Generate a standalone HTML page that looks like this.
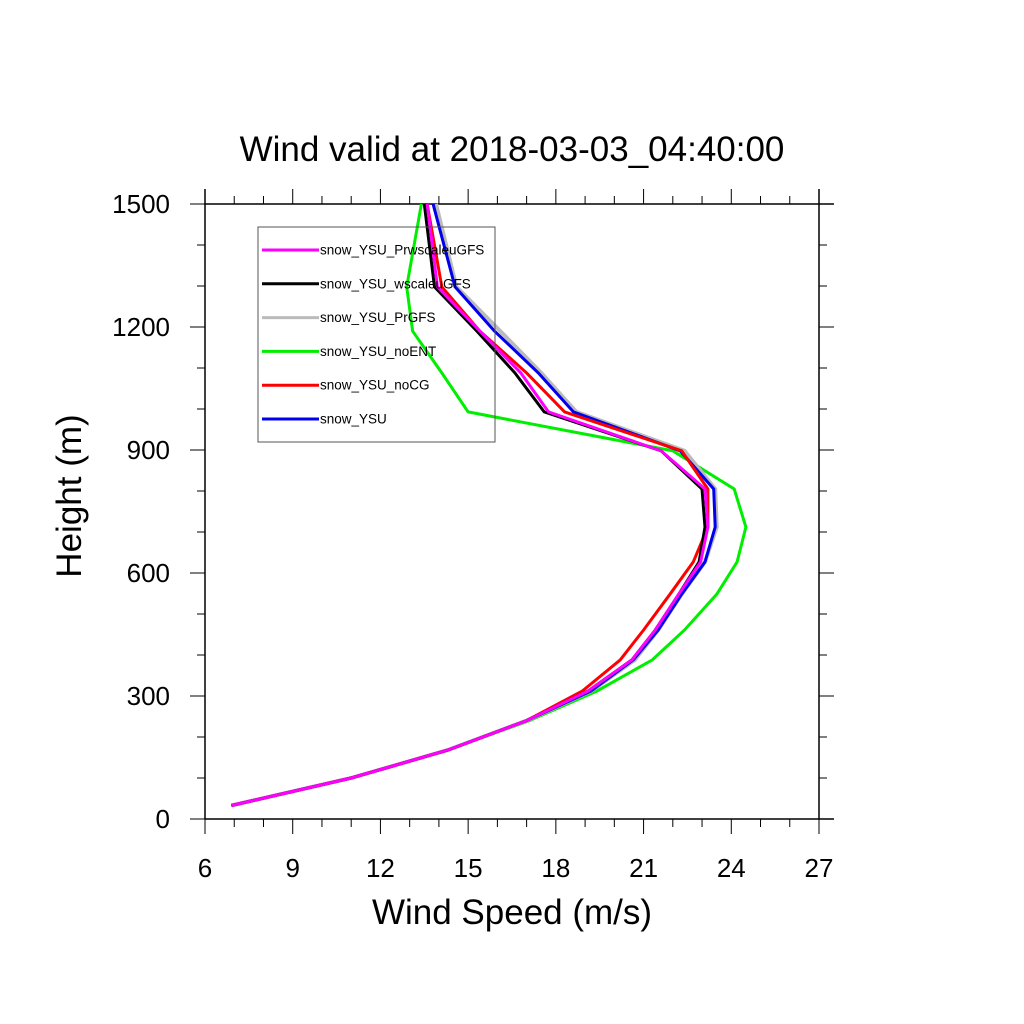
<!DOCTYPE html>
<html><head><meta charset="utf-8"><style>body{margin:0;background:#fff}svg{display:block}text{font-family:"Liberation Sans",sans-serif}</style></head>
<body>
<svg id="c" width="1024" height="1024" xmlns="http://www.w3.org/2000/svg"></svg>
<script>
const heights=[33,100,168,240,312,388,461,548,627,712,805,898,993,1088,1190,1298,1500];
const seriesNames=["snow_YSU_PrwscaleuGFS","snow_YSU_wscaleuGFS","snow_YSU_PrGFS","snow_YSU_noENT","snow_YSU_noCG","snow_YSU"];
const seriesColors=["#ff00ff","#000000","#bbbbbb","#00ee00","#ff0000","#0000ee"];
const sMag=[6.9,11.0,14.3,17.0,19.1,20.6,21.4,22.2,22.95,23.2,23.1,21.6,17.75,16.8,15.4,13.95,13.6];
const sBlk=[6.9,11.0,14.3,17.0,19.1,20.6,21.4,22.2,22.9,23.1,23.0,21.6,17.6,16.6,15.3,13.85,13.5];
const sGry=[6.9,11.0,14.3,17.0,19.2,20.7,21.5,22.3,23.1,23.5,23.45,22.4,18.7,17.5,16.1,14.6,13.9];
const sGrn=[6.9,11.0,14.3,17.1,19.4,21.3,22.4,23.5,24.2,24.5,24.1,22.0,15.0,14.1,13.1,12.9,13.4];
const sRed=[6.9,11.0,14.3,17.0,18.9,20.2,21.0,21.9,22.7,23.2,23.2,22.3,18.3,17.0,15.4,14.1,13.6];
const sBlu=[6.9,11.0,14.3,17.0,19.2,20.65,21.5,22.3,23.1,23.45,23.4,22.25,18.6,17.4,15.9,14.55,13.8];
const allSeries=[sMag,sBlk,sGry,sGrn,sRed,sBlu];
const xTicks=[6,9,12,15,18,21,24,27];
const yTicks=[0,300,600,900,1200,1500];
const L=205,R=819,T=204,B=819;
const X=v=>L+(v-6)/(27-6)*(R-L);
const Y=v=>B-(v/1500)*(B-T);
const svg=document.getElementById('c');const NS="http://www.w3.org/2000/svg";
function el(t,a,txt){const e=document.createElementNS(NS,t);for(const k in a)e.setAttribute(k,a[k]);if(txt!==undefined)e.textContent=txt;svg.appendChild(e);return e;}
let f=el('line',{x1:L,y1:T,x2:834,y2:T,stroke:'#000','stroke-width':1.5});


f=el('line',{x1:L,y1:B,x2:834,y2:B,stroke:'#000','stroke-width':1.5});


f=el('line',{x1:L,y1:189,x2:L,y2:B,stroke:'#000','stroke-width':1.5});


f=el('line',{x1:R,y1:189,x2:R,y2:B,stroke:'#000','stroke-width':1.5});


for(let v=6;v<=27;v++){const maj=(v-6)%3===0;const x=X(v);const len=maj?15:8;
 let t=el('line',{x1:x,y1:T,x2:x,y2:T-len,stroke:'#000','stroke-width':1});
 
 
 t=el('line',{x1:x,y1:B,x2:x,y2:B+len,stroke:'#000','stroke-width':1});
 
 }
xTicks.forEach(v=>{const t=el('text',{x:X(v),y:877,'font-size':26,'text-anchor':'middle'},String(v));
 
 });
for(let v=0;v<=1500;v+=100){const maj=v%300===0;const y=Y(v);const len=maj?15:8;
 let t=el('line',{x1:L,y1:y,x2:L-len,y2:y,stroke:'#000','stroke-width':1});
 
 
 t=el('line',{x1:R,y1:y,x2:R+len,y2:y,stroke:'#000','stroke-width':1});
 
 }
yTicks.forEach(v=>{const t=el('text',{x:170,y:Y(v)+9,'font-size':26,'text-anchor':'end'},String(v));
 
 });
let t=el('text',{x:512,y:161,'font-size':35,'text-anchor':'middle'},'Wind valid at 2018-03-03_04:40:00');


t=el('text',{x:512,y:924,'font-size':35,'text-anchor':'middle'},'Wind Speed (m/s)');


t=el('text',{x:81,y:496,'font-size':35,'text-anchor':'middle',transform:'rotate(-90 81 496)'},'Height (m)');


const order=[3,2,5,4,1,0];
order.forEach(i=>{const p=heights.map((h,j)=>X(allSeries[i][j]).toFixed(1)+','+Y(h).toFixed(1)).join(' ');
 const l=el('polyline',{points:p,fill:'none',stroke:seriesColors[i],'stroke-width':i===2?4:3,'stroke-linejoin':'miter'});
 
 });
const lg=el('rect',{x:258,y:227,width:237,height:215,fill:'none',stroke:'#555','stroke-width':1});


seriesNames.forEach((n,i)=>{const y=250+i*33.8;
 const l=el('line',{x1:262,y1:y,x2:319,y2:y,stroke:seriesColors[i],'stroke-width':3});
 
 
 const tx=el('text',{x:320,y:y+4.5,'font-size':13.5},n);
 
 });
</script>
</body></html>
